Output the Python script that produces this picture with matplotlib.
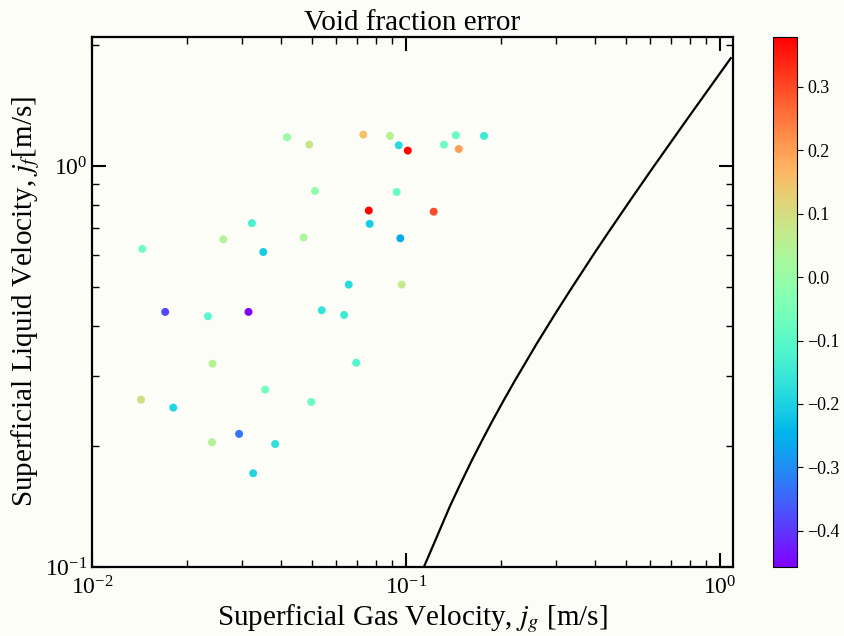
import numpy as np
from matplotlib import pyplot as plt
import matplotlib

matplotlib.use('Agg')

# Superficial velocities of the measured points [m/s]
jg = [0.0418, 0.0492, 0.0731, 0.0889, 0.0948, 0.1013, 0.1321, 0.1440, 0.1472, 0.1772,
      0.0513, 0.0934, 0.0761, 0.1225, 0.0323, 0.0766, 0.0262, 0.0472, 0.0959, 0.01446,
      0.0351, 0.0657, 0.0969, 0.0171, 0.0234, 0.0315, 0.0539, 0.0635, 0.0242, 0.0694,
      0.0356, 0.01432, 0.01815, 0.0499, 0.0294, 0.0241, 0.0383, 0.0326]
jf = [1.179, 1.130, 1.197, 1.188, 1.126, 1.092, 1.130, 1.193, 1.102, 1.188,
      0.866, 0.861, 0.774, 0.769, 0.720, 0.717, 0.656, 0.663, 0.660, 0.621,
      0.610, 0.506, 0.506, 0.4325, 0.4219, 0.4325, 0.4367, 0.4250, 0.3213, 0.3231,
      0.2768, 0.2613, 0.2496, 0.2579, 0.2147, 0.2046, 0.2026, 0.1713]
# void fraction error of each point
err = [0.00, 0.08, 0.15, 0.05, -0.18, 0.37, -0.07, -0.08, 0.20, -0.15,
       -0.01, -0.08, 0.379, 0.30, -0.13, -0.21, 0.04, 0.03, -0.26, -0.07,
       -0.21, -0.18, 0.07, -0.38, -0.10, -0.457, -0.16, -0.15, 0.05, -0.11,
       -0.06, 0.10, -0.19, -0.08, -0.33, 0.04, -0.17, -0.19]

# transition line
line_jg = [0.1141, 0.1222, 0.1380, 0.1486, 0.1619, 0.1742, 0.1875, 0.2042, 0.2213,
           0.2607, 0.2971, 0.3330, 0.3999, 0.4408, 0.5169, 0.6163, 0.798, 1.0817]
line_jf = [0.1002, 0.1135, 0.1418, 0.1604, 0.1842, 0.2060, 0.2298, 0.2595, 0.2900,
           0.3604, 0.4253, 0.4894, 0.6095, 0.6827, 0.8196, 0.9995, 1.3307, 1.856]

bg = '#fdfdf8'
plt.rcParams['font.family'] = ['Liberation Serif', 'DejaVu Serif']
plt.rcParams['mathtext.fontset'] = 'stix'

fig = plt.figure(figsize=(8.45, 6.36), dpi=100, facecolor=bg)
ax = fig.add_axes([0.1089, 0.1085, 0.7586, 0.8338], facecolor=bg)
cax = fig.add_axes([0.9148, 0.1085, 0.0284, 0.8338])

sc = ax.scatter(jg, jf, c=err, cmap='rainbow', s=33, linewidths=0, zorder=3)
ax.plot(line_jg, line_jf, color='black', linewidth=1.6)

ax.set_xscale('log')
ax.set_yscale('log')
ax.set_xlim(0.01, 1.1)
ax.set_ylim(0.1, 2.1)

ax.set_title('Void fraction error', fontsize=21, pad=5)
ax.set_xlabel('Superficial Gas Velocity, $j_g$ [m/s]', fontsize=21, labelpad=2)
ax.set_ylabel('Superficial Liquid Velocity, $j_f$[m/s]', fontsize=21, labelpad=2)

ax.tick_params(which='both', direction='in', top=True, right=True, labelsize=17)
ax.tick_params(which='major', length=10, width=1.5)
ax.tick_params(which='minor', length=5, width=1)
ax.tick_params(axis='x', which='major', pad=7)
for sp in ax.spines.values():
    sp.set_linewidth(1.6)

cb = fig.colorbar(sc, cax=cax)
cb.set_ticks([-0.4, -0.3, -0.2, -0.1, 0.0, 0.1, 0.2, 0.3])
cb.ax.tick_params(labelsize=13, length=4)
cb.outline.set_linewidth(0.8)

fig.savefig('out.png', dpi=100, facecolor=bg)
